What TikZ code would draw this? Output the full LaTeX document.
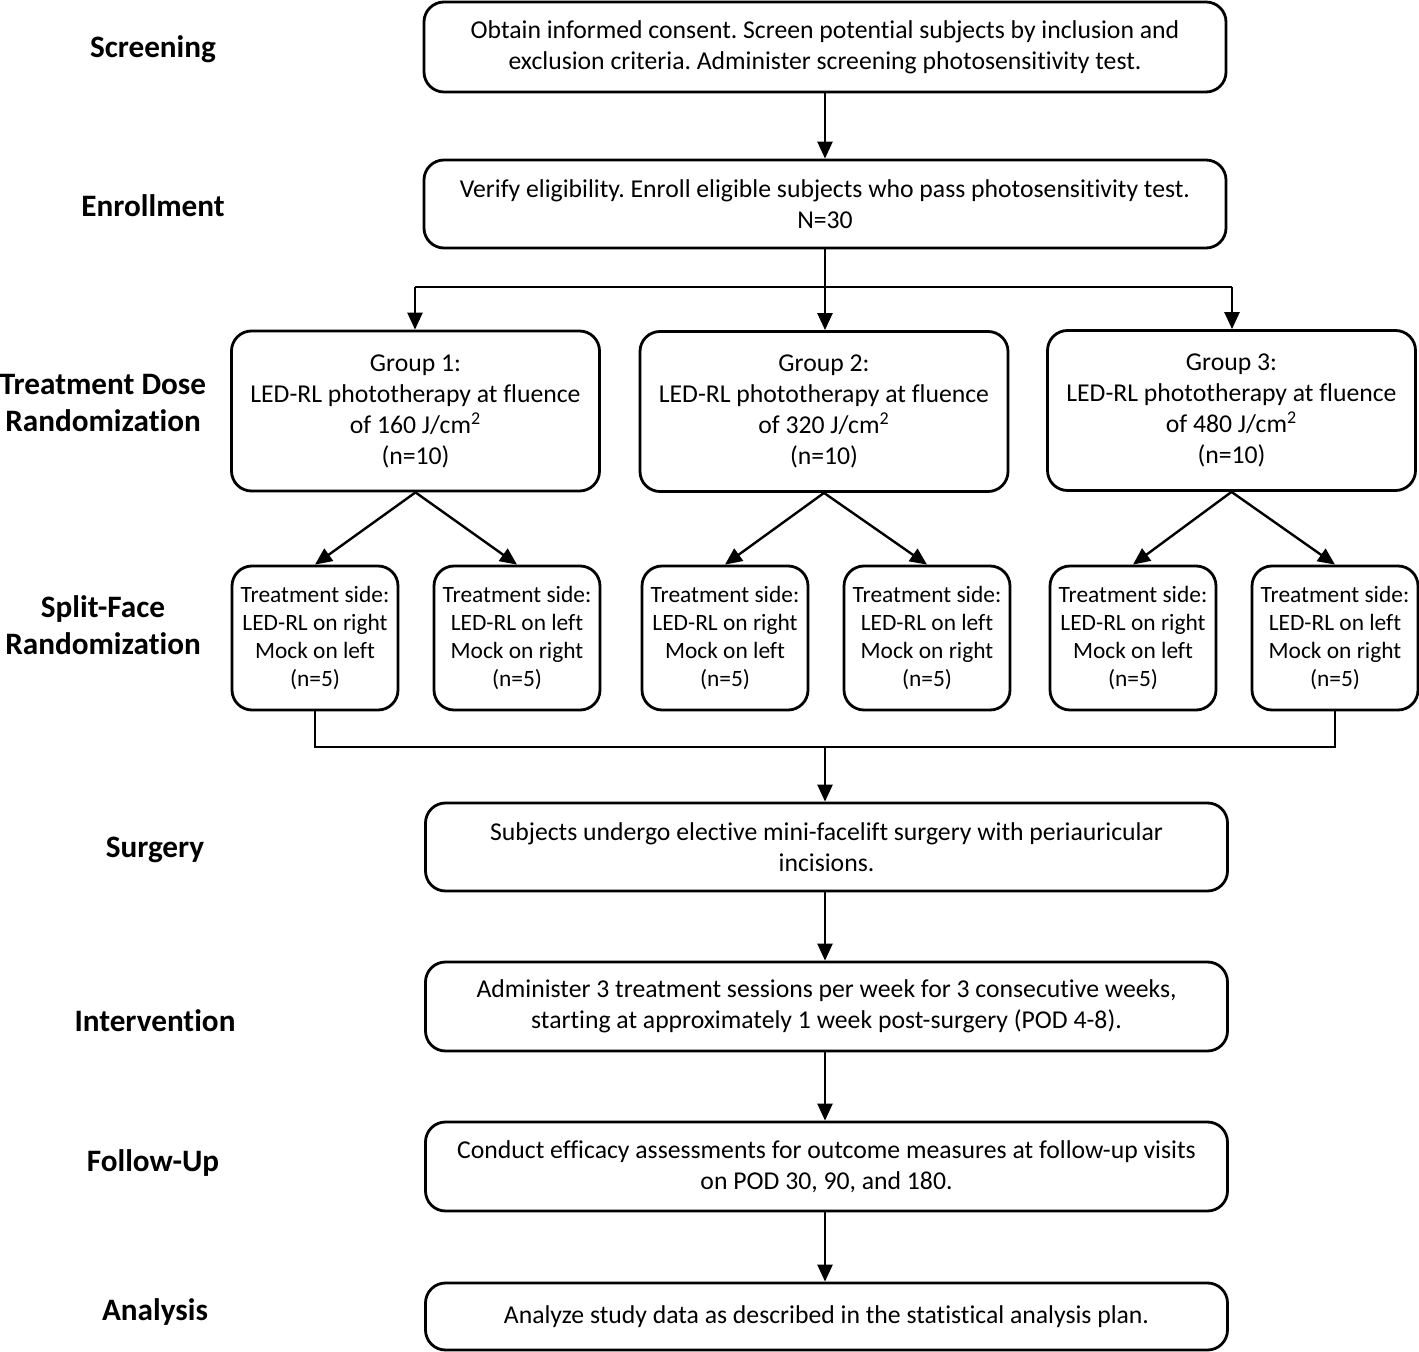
\documentclass[tikz,border=0pt]{standalone}
\usepackage{fontspec}
\setmainfont{Carlito}[Ligatures=NoCommon]
\usetikzlibrary{arrows.meta}
\frenchspacing
\begin{document}
\begin{tikzpicture}[x=0.5pt,y=-0.5pt,
  box/.style={draw=black,line width=1.4pt,rounded corners=10pt,align=center,inner sep=0pt,
    font=\frenchspacing\fontsize{12.85pt}{15.5pt}\selectfont},
  wide/.style={box,minimum width=401pt},
  grp/.style={box,minimum width=184pt,minimum height=80pt},
  side/.style={box,minimum width=83pt,minimum height=72pt,font=\fontsize{11.7pt}{14pt}\selectfont},
  lbl/.style={align=center,font=\fontsize{15.6pt}{18.5pt}\selectfont\bfseries,inner sep=0pt},
  arr/.style={-{Triangle[length=8.5pt,width=7.5pt]},line width=1.2pt},
  thin/.style={line width=0.7pt}]
\useasboundingbox (0,0) rectangle (1419,1352);

% left labels
\node[lbl] (lscreen) at (153,49) {Screening};
\node[lbl] (lenroll) at (153,206) {Enrollment};
\node[lbl] (ldose) at (103,403) {Treatment Dose\\Randomization};
\node[lbl] (lsplit) at (103,625) {Split-Face\\Randomization};
\node[lbl] (lsurg) at (155,850) {Surgery};
\node[lbl] (linter) at (155,1021) {Intervention};
\node[lbl] (lfollow) at (153,1163) {Follow-Up};
\node[lbl] (lanal) at (155,1312) {Analysis};

% main boxes
\node[wide,minimum height=45pt] (screen) at (825,47) {Obtain informed consent. Screen potential subjects by inclusion and\\exclusion criteria. Administer screening photosensitivity test.};
\node[wide,minimum height=44pt] (enroll) at (825,204) {Verify eligibility. Enroll eligible subjects who pass photosensitivity test.\\N=30};

\node[grp] (g1) at (415.5,411) {Group 1:\\LED-RL phototherapy at fluence\\of 160 J/cm\textsuperscript{2}\\(n=10)};
\node[grp] (g2) at (824,411.5) {Group 2:\\LED-RL phototherapy at fluence\\of 320 J/cm\textsuperscript{2}\\(n=10)};
\node[grp] (g3) at (1231.5,410.5) {Group 3:\\LED-RL phototherapy at fluence\\of 480 J/cm\textsuperscript{2}\\(n=10)};

\node[side] (s1) at (315,638) {Treatment side:\\LED-RL on right\\Mock on left\\(n=5)};
\node[side] (s2) at (517,638) {Treatment side:\\LED-RL on left\\Mock on right\\(n=5)};
\node[side] (s3) at (725,638) {Treatment side:\\LED-RL on right\\Mock on left\\(n=5)};
\node[side] (s4) at (927,638) {Treatment side:\\LED-RL on left\\Mock on right\\(n=5)};
\node[side] (s5) at (1133,638) {Treatment side:\\LED-RL on right\\Mock on left\\(n=5)};
\node[side] (s6) at (1335,638) {Treatment side:\\LED-RL on left\\Mock on right\\(n=5)};

\node[wide,minimum height=44pt] (surg) at (826.5,847) {Subjects undergo elective mini-facelift surgery with periauricular\\incisions.};
\node[wide,minimum height=44.5pt] (inter) at (826.5,1006.5) {Administer 3 treatment sessions per week for 3 consecutive weeks,\\starting at approximately 1 week post-surgery (POD 4-8).};
\node[wide,minimum height=44.5pt] (follow) at (826.5,1166.5) {Conduct efficacy assessments for outcome measures at follow-up visits\\on POD 30, 90, and 180.};
\node[wide,minimum height=33.5pt] (anal) at (826.5,1316.5) {Analyze study data as described in the statistical analysis plan.};

% connectors
\draw[arr] (screen) -- (enroll);
\coordinate (busL) at (415,287);
\coordinate (busR) at (1232,287);
\draw[line width=1.2pt] (enroll.south) -- (enroll.south |- busL);
\draw[line width=1.2pt] (busL) -- (busR);
\draw[arr] (busL) -- (g1.north -| busL);
\draw[arr] (enroll.south |- busL) -- (g2.north -| enroll.south);
\draw[arr] (busR) -- (g3.north -| busR);

\foreach \g/\a/\b in {g1/s1/s2,g2/s3/s4,g3/s5/s6}{
  \draw[arr] (\g.south) -- (\a.north);
  \draw[arr] (\g.south) -- (\b.north);
}

\coordinate (low) at (825,747);
\draw[thin] (s1.south) -- (s1.south |- low) -- (s6.south |- low) -- (s6.south);
\draw[arr] (low) -- (low |- surg.north);
\draw[arr] (surg.south -| low) -- (inter.north -| low);
\draw[arr] (inter.south -| low) -- (follow.north -| low);
\draw[arr] (follow.south -| low) -- (anal.north -| low);
\end{tikzpicture}
\end{document}
